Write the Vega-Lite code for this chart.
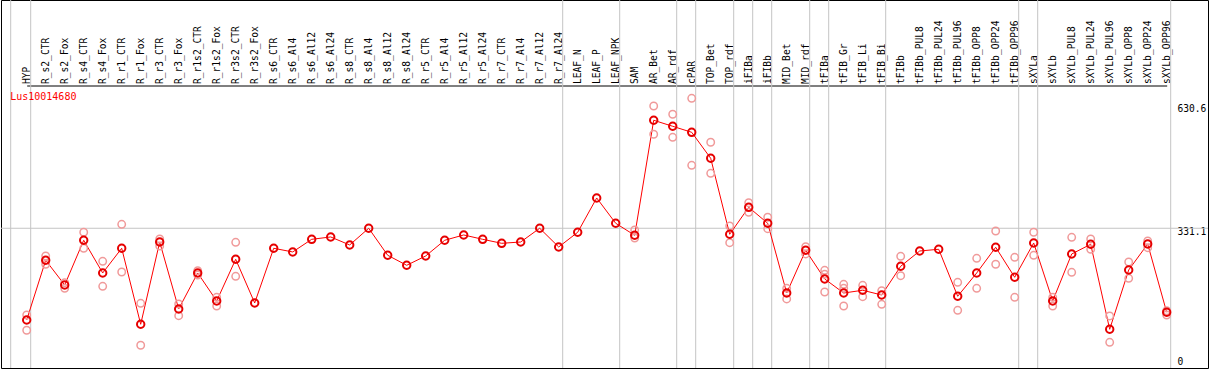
{
  "$schema": "https://vega.github.io/schema/vega-lite/v6.json",
  "width": 1207,
  "height": 368,
  "autosize": {"type": "none"},
  "padding": {"left": 1, "top": 0, "right": 1, "bottom": 2},
  "background": "white",
  "config": {"view": {"stroke": "black", "strokeWidth": 1}, "axis": {"grid": false}},
  "datasets": {
    "means": [
      {"s": "HYP", "v": 106.7}, {"s": "R_s2_CTR", "v": 252.8}, {"s": "R_s2_Fox", "v": 192.3}, {"s": "R_s4_CTR", "v": 301.7}, {"s": "R_s4_Fox", "v": 221.7},
      {"s": "R_r1_CTR", "v": 282.1}, {"s": "R_r1_Fox", "v": 96.2}, {"s": "R_r3_CTR", "v": 297.5}, {"s": "R_r3_Fox", "v": 133.6}, {"s": "R_r1s2_CTR", "v": 221.7},
      {"s": "R_r1s2_Fox", "v": 153.2}, {"s": "R_r3s2_CTR", "v": 255.2}, {"s": "R_r3s2_Fox", "v": 148.3}, {"s": "R_s6_CTR", "v": 282.1}, {"s": "R_s6_Al4", "v": 273.1},
      {"s": "R_s6_Al12", "v": 304.1}, {"s": "R_s6_Al24", "v": 309.8}, {"s": "R_s8_CTR", "v": 290.2}, {"s": "R_s8_Al4", "v": 331.1}, {"s": "R_s8_Al12", "v": 265.0},
      {"s": "R_s8_Al24", "v": 240.5}, {"s": "R_r5_CTR", "v": 263.3}, {"s": "R_r5_Al4", "v": 301.7}, {"s": "R_r5_Al12", "v": 314.7}, {"s": "R_r5_Al24", "v": 304.1},
      {"s": "R_r7_CTR", "v": 294.3}, {"s": "R_r7_Al4", "v": 297.5}, {"s": "R_r7_Al12", "v": 331.1}, {"s": "R_r7_Al24", "v": 285.3}, {"s": "LEAF_N", "v": 321.3},
      {"s": "LEAF_P", "v": 405.2}, {"s": "LEAF_NPK", "v": 343.3}, {"s": "SAM", "v": 313.9}, {"s": "AR_Bet", "v": 595.3}, {"s": "AR_rdf", "v": 580.6},
      {"s": "cPAR", "v": 565.9}, {"s": "TOP_Bet", "v": 502.3}, {"s": "TOP_rdf", "v": 316.4}, {"s": "iFIBa", "v": 382.4}, {"s": "iFIBb", "v": 343.3},
      {"s": "MID_Bet", "v": 172.7}, {"s": "MID_rdf", "v": 277.2}, {"s": "tFIBa", "v": 207.0}, {"s": "tFIB_Gr", "v": 172.7}, {"s": "tFIB_Li", "v": 179.4},
      {"s": "tFIB_Bi", "v": 167.8}, {"s": "tFIBb", "v": 238.1}, {"s": "tFIBb_PUL8", "v": 275.5}, {"s": "tFIBb_PUL24", "v": 279.7}, {"s": "tFIBb_PUL96", "v": 164.7},
      {"s": "tFIBb_OPP8", "v": 221.7}, {"s": "tFIBb_OPP24", "v": 284.6}, {"s": "tFIBb_OPP96", "v": 211.2}, {"s": "sXYLa", "v": 295.1}, {"s": "sXYLb", "v": 153.2},
      {"s": "sXYLb_PUL8", "v": 268.2}, {"s": "sXYLb_PUL24", "v": 291.9}, {"s": "sXYLb_PUL96", "v": 83.9}, {"s": "sXYLb_OPP8", "v": 229.0}, {"s": "sXYLb_OPP24", "v": 292.6},
      {"s": "sXYLb_OPP96", "v": 125.5}
    ],
    "reps": [
      {"s": "HYP", "v": 118.9}, {"s": "HYP", "v": 81.5},
      {"s": "R_s2_CTR", "v": 263.3}, {"s": "R_s2_CTR", "v": 243.0},
      {"s": "R_s2_Fox", "v": 197.9}, {"s": "R_s2_Fox", "v": 184.2},
      {"s": "R_s4_CTR", "v": 321.3}, {"s": "R_s4_CTR", "v": 282.1},
      {"s": "R_s4_Fox", "v": 250.3}, {"s": "R_s4_Fox", "v": 189.1},
      {"s": "R_r1_CTR", "v": 340.8}, {"s": "R_r1_CTR", "v": 224.1},
      {"s": "R_r1_Fox", "v": 147.5}, {"s": "R_r1_Fox", "v": 44.8},
      {"s": "R_r3_CTR", "v": 304.9}, {"s": "R_r3_CTR", "v": 287.7},
      {"s": "R_r3_Fox", "v": 145.8}, {"s": "R_r3_Fox", "v": 117.2},
      {"s": "R_r1s2_CTR", "v": 227.3}, {"s": "R_r1s2_CTR", "v": 216.8},
      {"s": "R_r1s2_Fox", "v": 162.2}, {"s": "R_r1s2_Fox", "v": 140.9},
      {"s": "R_r3s2_CTR", "v": 296.8}, {"s": "R_r3s2_CTR", "v": 213.6},
      {"s": "SAM", "v": 326.9}, {"s": "SAM", "v": 307.3},
      {"s": "AR_Bet", "v": 630.3}, {"s": "AR_Bet", "v": 561.1},
      {"s": "AR_rdf", "v": 610.0}, {"s": "AR_rdf", "v": 553.7},
      {"s": "cPAR", "v": 649.1}, {"s": "cPAR", "v": 485.2},
      {"s": "TOP_Bet", "v": 541.5}, {"s": "TOP_Bet", "v": 465.6},
      {"s": "TOP_rdf", "v": 336.7}, {"s": "TOP_rdf", "v": 295.8},
      {"s": "iFIBa", "v": 393.7}, {"s": "iFIBa", "v": 370.2},
      {"s": "iFIBb", "v": 358.0}, {"s": "iFIBb", "v": 330.1},
      {"s": "MID_Bet", "v": 184.2}, {"s": "MID_Bet", "v": 158.1},
      {"s": "MID_rdf", "v": 286.0}, {"s": "MID_rdf", "v": 268.2},
      {"s": "tFIBa", "v": 228.3}, {"s": "tFIBa", "v": 218.5}, {"s": "tFIBa", "v": 175.2},
      {"s": "tFIB_Gr", "v": 194.0}, {"s": "tFIB_Gr", "v": 184.2}, {"s": "tFIB_Gr", "v": 140.9},
      {"s": "tFIB_Li", "v": 191.6}, {"s": "tFIB_Li", "v": 163.7},
      {"s": "tFIB_Bi", "v": 178.4}, {"s": "tFIB_Bi", "v": 145.1},
      {"s": "tFIBb", "v": 262.5}, {"s": "tFIBb", "v": 215.1},
      {"s": "tFIBb_PUL96", "v": 198.9}, {"s": "tFIBb_PUL96", "v": 130.4},
      {"s": "tFIBb_OPP8", "v": 257.6}, {"s": "tFIBb_OPP8", "v": 184.2},
      {"s": "tFIBb_OPP24", "v": 324.4}, {"s": "tFIBb_OPP24", "v": 243.0},
      {"s": "tFIBb_OPP96", "v": 260.1}, {"s": "tFIBb_OPP96", "v": 162.2},
      {"s": "sXYLa", "v": 321.3}, {"s": "sXYLa", "v": 265.0},
      {"s": "sXYLb", "v": 162.2}, {"s": "sXYLb", "v": 140.9},
      {"s": "sXYLb_PUL8", "v": 309.0}, {"s": "sXYLb_PUL8", "v": 223.4},
      {"s": "sXYLb_PUL24", "v": 304.9}, {"s": "sXYLb_PUL24", "v": 279.7},
      {"s": "sXYLb_PUL96", "v": 116.5}, {"s": "sXYLb_PUL96", "v": 52.1},
      {"s": "sXYLb_OPP8", "v": 248.6}, {"s": "sXYLb_OPP8", "v": 208.7},
      {"s": "sXYLb_OPP24", "v": 300.0}, {"s": "sXYLb_OPP24", "v": 283.6},
      {"s": "sXYLb_OPP96", "v": 129.4}, {"s": "sXYLb_OPP96", "v": 118.9}
    ],
    "bounds": [
      {"s": "HYP"}, {"s": "R_r7_Al24"}, {"s": "LEAF_NPK"}, {"s": "AR_rdf"}, {"s": "cPAR"}, {"s": "TOP_rdf"}, {"s": "iFIBa"},
      {"s": "iFIBb"}, {"s": "MID_rdf"}, {"s": "tFIBa"}, {"s": "tFIB_Bi"}, {"s": "tFIBb_OPP96"}, {"s": "sXYLa"}, {"s": "sXYLb_OPP96"}
    ],
    "start": [{"s": "HYP"}],
    "ref": [{"v": 331.1}],
    "label": [{"name": "Lus10014680"}]
  },
  "layer": [
    {
      "data": {"name": "bounds"},
      "mark": {"type": "rule", "color": "#c4c4c4", "strokeWidth": 1, "xOffset": 4},
      "encoding": {
        "x": {"field": "s", "type": "nominal",
          "scale": {"type": "point", "domain": ["HYP","R_s2_CTR","R_s2_Fox","R_s4_CTR","R_s4_Fox","R_r1_CTR","R_r1_Fox","R_r3_CTR","R_r3_Fox","R_r1s2_CTR","R_r1s2_Fox","R_r3s2_CTR","R_r3s2_Fox","R_s6_CTR","R_s6_Al4","R_s6_Al12","R_s6_Al24","R_s8_CTR","R_s8_Al4","R_s8_Al12","R_s8_Al24","R_r5_CTR","R_r5_Al4","R_r5_Al12","R_r5_Al24","R_r7_CTR","R_r7_Al4","R_r7_Al12","R_r7_Al24","LEAF_N","LEAF_P","LEAF_NPK","SAM","AR_Bet","AR_rdf","cPAR","TOP_Bet","TOP_rdf","iFIBa","iFIBb","MID_Bet","MID_rdf","tFIBa","tFIB_Gr","tFIB_Li","tFIB_Bi","tFIBb","tFIBb_PUL8","tFIBb_PUL24","tFIBb_PUL96","tFIBb_OPP8","tFIBb_OPP24","tFIBb_OPP96","sXYLa","sXYLb","sXYLb_PUL8","sXYLb_PUL24","sXYLb_PUL96","sXYLb_OPP8","sXYLb_OPP24","sXYLb_OPP96"], "range": [25.7, 1165.7], "padding": 0},
          "axis": {"orient": "top", "offset": -85.5, "title": null, "labelAngle": -90, "labelFont": "DejaVu Sans Mono", "labelFontSize": 9.6, "labelColor": "black", "labelPadding": 2, "ticks": false, "domainColor": "black", "domainWidth": 1, "labelOverlap": false, "labelBound": false, "grid": false}}
      }
    },
    {
      "data": {"name": "start"},
      "mark": {"type": "rule", "color": "#c4c4c4", "strokeWidth": 1, "xOffset": -16},
      "encoding": {"x": {"field": "s", "type": "nominal"}}
    },
    {
      "data": {"name": "ref"},
      "mark": {"type": "rule", "color": "#c4c4c4", "strokeWidth": 1},
      "encoding": {
        "y": {"field": "v", "type": "quantitative",
          "scale": {"domain": [-10.8, 889.6], "nice": false, "zero": false},
          "axis": {"orient": "right", "values": [0, 331.1, 630.6], "format": ".1~f", "title": null, "domain": false, "ticks": false, "grid": false, "labelPadding": -31, "labelAlign": "left", "labelBaseline": {"condition": {"test": "datum.value === 0", "value": "middle"}, "value": "top"}, "labelOffset": -2, "labelFont": "DejaVu Sans Mono", "labelFontSize": 9.6, "labelColor": "black"}}
      }
    },
    {
      "data": {"name": "means"},
      "mark": {"type": "line", "color": "#ff0000", "strokeWidth": 1},
      "encoding": {"x": {"field": "s", "type": "nominal"}, "y": {"field": "v", "type": "quantitative"}}
    },
    {
      "data": {"name": "reps"},
      "mark": {"type": "point", "filled": false, "stroke": "#f09a9a", "strokeWidth": 1.5, "size": 55, "opacity": 1},
      "encoding": {"x": {"field": "s", "type": "nominal"}, "y": {"field": "v", "type": "quantitative"}}
    },
    {
      "data": {"name": "means"},
      "mark": {"type": "point", "filled": false, "stroke": "#e60000", "strokeWidth": 2, "size": 55, "opacity": 1},
      "encoding": {"x": {"field": "s", "type": "nominal"}, "y": {"field": "v", "type": "quantitative"}}
    },
    {
      "data": {"name": "label"},
      "mark": {"type": "text", "color": "#ff0000", "align": "left", "baseline": "middle", "font": "DejaVu Sans Mono", "fontSize": 10, "xOffset": -16.5},
      "encoding": {"x": {"datum": "HYP", "type": "nominal"}, "y": {"datum": 652, "type": "quantitative"}, "text": {"field": "name"}}
    }
  ]
}
